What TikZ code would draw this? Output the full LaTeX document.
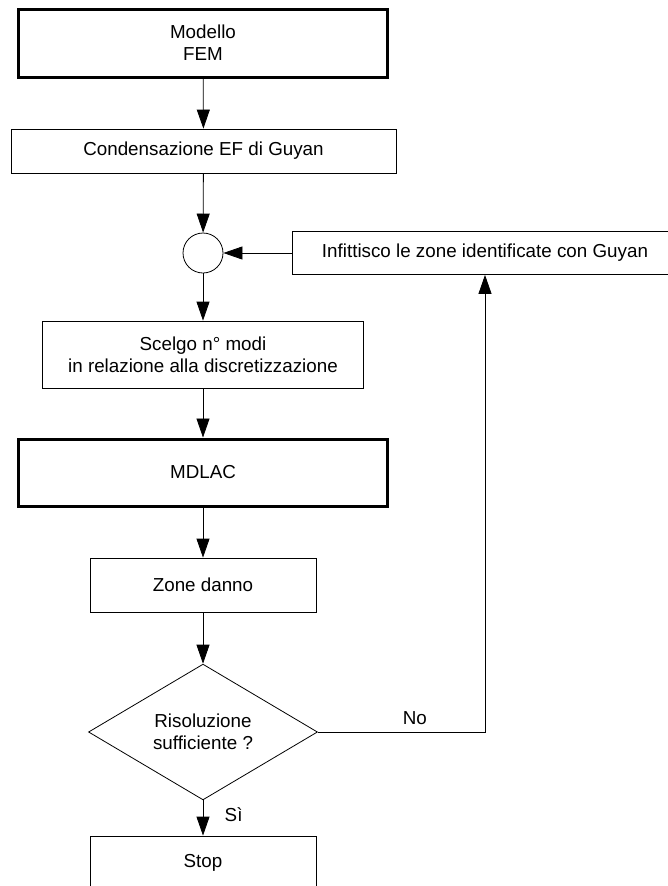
\documentclass[tikz,border=0pt]{standalone}
\usepackage{fontspec}
\setmainfont{Liberation Sans}
\usetikzlibrary{arrows.meta,shapes.geometric}

\begin{document}
\begin{tikzpicture}[
    x=1pt, y=-1pt,
    every node/.style={font=\fontsize{18.8}{22}\selectfont},
    blk/.style={rectangle,draw,line width=0.8pt,inner sep=0pt,align=center},
    blkthick/.style={blk,line width=3pt},
    dec/.style={diamond,draw,line width=0.8pt,inner sep=0pt,align=center,minimum width=229pt,minimum height=110pt},
    arr/.style={-{Triangle[length=19pt,width=13pt]},line width=0.8pt}
]
\useasboundingbox (0,0) rectangle (667,886);

% Blocks
\node[blkthick,minimum width=369pt,minimum height=68pt] (fem) at (203,43) {Modello\\FEM};
\node[blk,minimum width=385pt,minimum height=44pt] (cond) at (203.5,151) {Condensazione EF di Guyan};
\node[circle,draw,line width=0.8pt,minimum size=40pt,inner sep=0pt] (join) at (203,253) {};
\node[blk,minimum width=386pt,minimum height=43pt] (inf) at (485,253) {Infittisco le zone identificate con Guyan};
\node[blk,minimum width=321.5pt,minimum height=67pt] (scelgo) at (203,354.5) {Scelgo n° modi\\in relazione alla discretizzazione};
\node[blkthick,minimum width=369pt,minimum height=67pt] (mdlac) at (203,472.5) {MDLAC};
\node[blk,minimum width=226pt,minimum height=54pt] (zone) at (203,585) {Zone danno};
\node[dec] (ris) at (203,732) {Risoluzione\\sufficiente ?};
\node[blk,minimum width=226pt,minimum height=54pt] (stop) at (203,863) {Stop};

% Flow
\draw[arr] (fem) -- (cond);
\draw[arr] (cond) -- (join);
\draw[arr] (inf.west) -- (join.east);
\draw[arr] (join) -- (scelgo);
\draw[arr] (scelgo) -- (mdlac);
\draw[arr] (mdlac) -- (zone);
\draw[arr] (zone) -- (ris);
\draw[arr] (ris) -- node[pos=0.41,right=18pt]{Sì} (stop);
\draw[arr] (ris.east) -| node[pos=0.29,above=4pt]{No} (inf.south);
\end{tikzpicture}
\end{document}
